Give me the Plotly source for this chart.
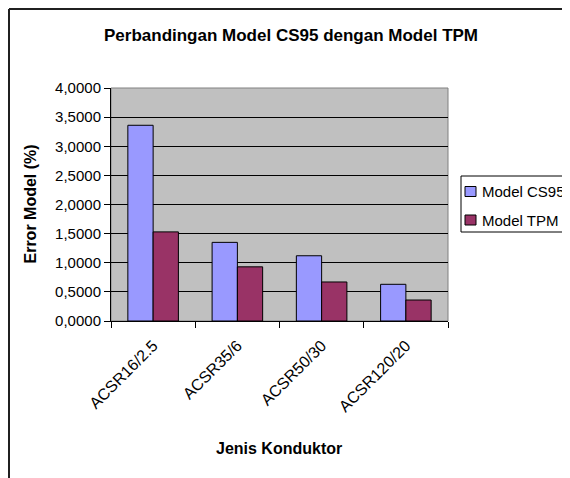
import plotly.graph_objects as go

categories = ["ACSR16/2.5", "ACSR35/6", "ACSR50/30", "ACSR120/20"]
cs95 = [3.36, 1.35, 1.12, 0.63]
tpm = [1.53, 0.93, 0.67, 0.36]
y_ticks = [0, 0.5, 1.0, 1.5, 2.0, 2.5, 3.0, 3.5, 4.0]
series_names = ["Model CS95", "Model TPM"]
series_colors = ["#9999FF", "#993366"]

FONT = "Liberation Sans"

# page offset (body margin) compensation
OFF = 8
W, H = 570, 478
PL, PT, PR, PB = 111, 88, 448, 321  # plot area in screen pixels
L = PL - OFF
T = PT - OFF
pw, ph = PR - PL, PB - PT
R = W - L - pw
B = H - T - ph

def px_x(x):
    return (x - PL) / pw

def px_y(y):
    return (PB - y) / ph

fig = go.Figure()
for name, vals, col in zip(series_names, [cs95, tpm], series_colors):
    fig.add_trace(go.Bar(x=categories, y=vals, name=name,
                         marker=dict(color=col, line=dict(color="black", width=1))))

annotations = [
    dict(text="<b>Perbandingan Model CS95 dengan Model TPM</b>", xref="paper", yref="paper",
         x=px_x(291), y=px_y(35), xanchor="center", yanchor="middle", showarrow=False,
         font=dict(family=FONT, size=17, color="black")),
    dict(text="<b>Error Model (%)</b>", xref="paper", yref="paper",
         x=px_x(30), y=0.5, xanchor="center", yanchor="middle", textangle=-90,
         showarrow=False, font=dict(family=FONT, size=16, color="black")),
    dict(text="<b>Jenis Konduktor</b>", xref="paper", yref="paper",
         x=px_x(279), y=px_y(448), xanchor="center", yanchor="middle",
         showarrow=False, font=dict(family=FONT, size=16, color="black")),
]

# frame (only top and left edges visible in the reference)
shapes = [
    dict(type="rect", xref="paper", yref="paper", x0=0, x1=1, y0=0, y1=1,
         line=dict(color="#808080", width=1), layer="below"),
    dict(type="line", xref="paper", yref="paper", x0=px_x(OFF + 1), x1=px_x(600),
         y0=px_y(OFF + 1), y1=px_y(OFF + 1), line=dict(color="#202020", width=2)),
    dict(type="line", xref="paper", yref="paper", x0=px_x(OFF + 1), x1=px_x(OFF + 1),
         y0=px_y(OFF + 1), y1=px_y(500), line=dict(color="#202020", width=2)),
    # legend box
    dict(type="rect", xref="paper", yref="paper", x0=px_x(461), x1=px_x(575),
         y0=px_y(232), y1=px_y(176), line=dict(color="black", width=1),
         fillcolor="white"),
]

# custom legend entries
legend_rows = [191.5, 220.0]
for name, col, yc in zip(series_names, series_colors, legend_rows):
    shapes.append(dict(type="rect", xref="paper", yref="paper",
                       x0=px_x(465), x1=px_x(476), y0=px_y(yc + 5), y1=px_y(yc - 5),
                       line=dict(color="black", width=1), fillcolor=col))
    annotations.append(dict(text=name, xref="paper", yref="paper",
                            x=px_x(480), y=px_y(yc), xanchor="left", yanchor="middle",
                            showarrow=False,
                            font=dict(family=FONT, size=15, color="black")))

fig.update_layout(
    width=W, height=H,
    margin=dict(l=L, r=R, t=T, b=B, autoexpand=False),
    paper_bgcolor="white",
    plot_bgcolor="#C0C0C0",
    separators=",.",
    barmode="group",
    bargap=0.4,
    bargroupgap=0,
    font=dict(family=FONT, size=15, color="black"),
    showlegend=False,
    xaxis=dict(tickangle=-45, ticks="outside", tickson="boundaries", ticklen=6,
               tickcolor="black", showline=True, linecolor="black", linewidth=1,
               ticklabelstandoff=8,
               tickfont=dict(family=FONT, size=16, color="black")),
    yaxis=dict(range=[0, 4], tickvals=y_ticks, tickformat=".4f",
               ticks="outside", ticklen=6, tickcolor="black",
               showline=True, linecolor="black", linewidth=1,
               showgrid=True, gridcolor="black", gridwidth=1,
               zeroline=False,
               tickfont=dict(family=FONT, size=15, color="black")),
    annotations=annotations,
    shapes=shapes,
)

fig.write_html("out.html")
